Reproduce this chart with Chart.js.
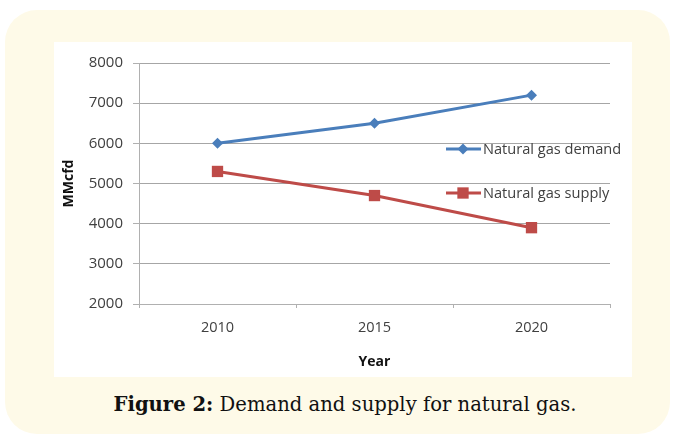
<!DOCTYPE html>
<html>
<head>
<meta charset="utf-8">
<script src="https://cdn.jsdelivr.net/npm/chart.js@4/dist/chart.umd.min.js"></script>
<style>
    body { margin: 0; background: #ffffff; width: 675px; height: 439px; position: relative; overflow: hidden; }
    .frame { position: absolute; left: 5px; top: 10px; width: 665px; height: 424px; background: #fefae8; border-radius: 32px; }
    .panel { position: absolute; left: 54px; top: 42px; width: 578px; height: 335px; background: #ffffff; }
    .caption { position: absolute; left: 14px; top: 393px; width: 662px; text-align: center;
        font-family: "DejaVu Serif", serif; font-size: 19.6px; color: #111; }
</style>
</head>
<body>
<div class="frame"></div>
<div class="panel"><canvas id="gas-chart" width="578" height="335"></canvas></div>
<div class="caption"><b>Figure 2:</b> Demand and supply for natural gas.</div>
<script>
const years = ['2010', '2015', '2020'];
const demand = [6000, 6500, 7200];
const supply = [5300, 4700, 3900];
const yTicks = [2000, 3000, 4000, 5000, 6000, 7000, 8000];

const font = '"Open Sans", sans-serif';

// legend drawn inside the plot, like the Excel original
const lineLegend = {
    id: 'lineLegend',
    afterDraw(chart) {
        const ctx = chart.ctx;
        const x0 = 392;
        const rows = [107, 151];
        chart.data.datasets.forEach((ds, i) => {
            const y = rows[i];
            ctx.save();
            ctx.strokeStyle = ds.borderColor;
            ctx.lineWidth = 3;
            ctx.beginPath();
            ctx.moveTo(x0, y);
            ctx.lineTo(x0 + 35, y);
            ctx.stroke();
            ctx.fillStyle = ds.pointBackgroundColor;
            Chart.helpers.drawPoint(ctx, {
                pointStyle: ds.pointStyle,
                radius: ds.pointRadius,
                rotation: 0,
                borderWidth: 0
            }, x0 + 17, y);
            ctx.fillStyle = '#404040';
            ctx.font = '14.6px ' + font;
            ctx.textBaseline = 'middle';
            ctx.fillText(ds.label, x0 + 37, y + 1);
            ctx.restore();
        });
    }
};

new Chart(document.getElementById('gas-chart').getContext('2d'), {
    type: 'line',
    data: {
        labels: years,
        datasets: [
            {
                label: 'Natural gas demand',
                data: demand,
                borderColor: '#4a7ebb',
                backgroundColor: '#4a7ebb',
                pointBackgroundColor: '#4a7ebb',
                pointBorderWidth: 0,
                pointStyle: 'rectRot',
                pointRadius: 5.5,
                borderWidth: 3,
                tension: 0,
                fill: false
            },
            {
                label: 'Natural gas supply',
                data: supply,
                borderColor: '#be4b48',
                backgroundColor: '#be4b48',
                pointBackgroundColor: '#be4b48',
                pointBorderWidth: 0,
                pointStyle: 'rect',
                pointRadius: 8,
                borderWidth: 3,
                tension: 0,
                fill: false
            }
        ]
    },
    options: {
        responsive: false,
        animation: false,
        layout: { padding: { top: 21, right: 22, left: 3, bottom: 0 } },
        plugins: {
            legend: { display: false },
            tooltip: { enabled: false }
        },
        scales: {
            x: {
                offset: true,
                grid: { offset: true, drawOnChartArea: false, tickLength: 4, color: '#b0b0b0' },
                border: { color: '#b0b0b0', width: 1 },
                ticks: { color: '#404040', font: { family: font, size: 14.5 }, padding: 11 },
                title: { display: true, text: 'Year', color: '#111', font: { family: font, size: 14, weight: 'bold' }, padding: { top: 1, bottom: 7 } },
                afterFit: s => { s.height = 73; }
            },
            y: {
                min: 2000,
                max: 8000,
                afterBuildTicks: s => { s.ticks = yTicks.map(v => ({ value: v })); },
                grid: { color: '#a6a6a6', tickColor: '#b0b0b0', tickLength: 6 },
                border: { color: '#b0b0b0', width: 1 },
                ticks: { color: '#404040', font: { family: font, size: 15 }, padding: 10, callback: v => String(v) },
                title: { display: true, text: 'MMcfd', color: '#111', font: { family: font, size: 14, weight: 'bold' }, padding: { top: 4, bottom: 4 } },
                afterFit: s => { s.width = 82; }
            }
        }
    },
    plugins: [lineLegend]
});
</script>
</body>
</html>
